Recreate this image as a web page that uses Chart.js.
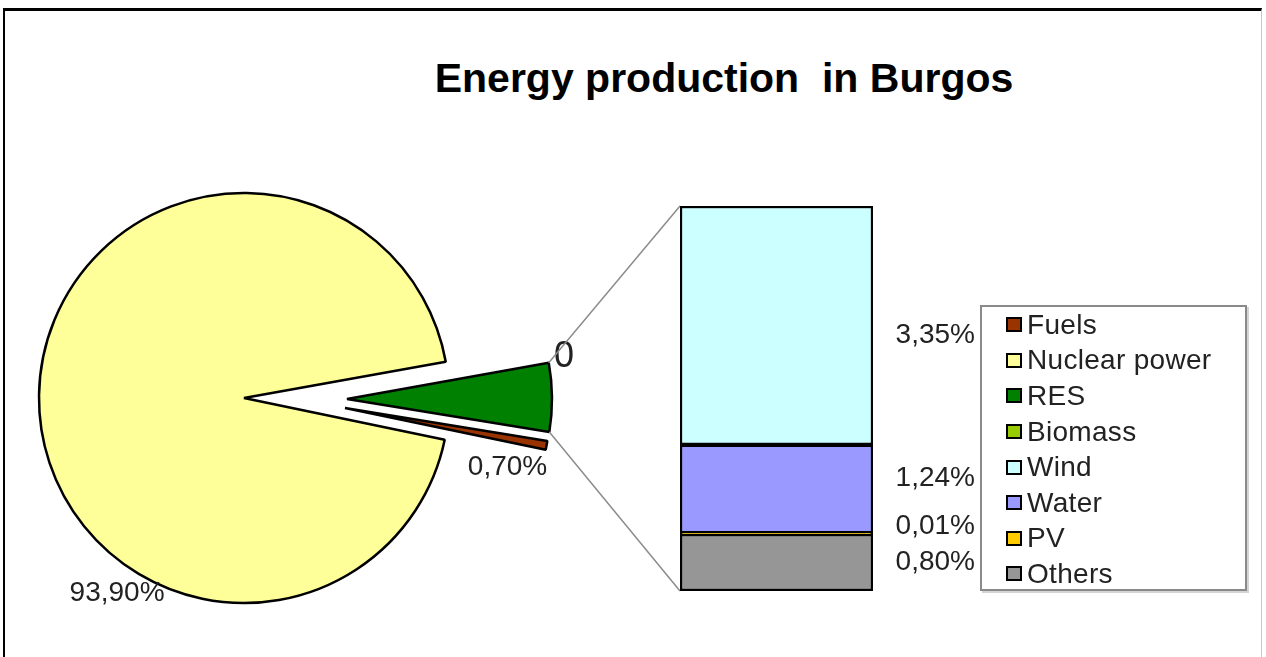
<!DOCTYPE html>
<html>
<head>
<meta charset="utf-8">
<title>Energy production in Burgos</title>
<script src="https://cdn.jsdelivr.net/npm/chart.js@4.4.1/dist/chart.umd.min.js"></script>
<style>
    body { margin: 0; background: #fff; font-family: "Liberation Sans", Arial, sans-serif; }
    #wrap { position: relative; width: 1266px; height: 657px; overflow: hidden; }
    #frame {
        position: absolute; left: 3px; top: 8px; width: 1256px; height: 700px;
        border-top: 3px solid #000; border-left: 2px solid #000; border-right: 1px solid #c8c8c8;
    }
    canvas { position: absolute; left: 0; top: 0; }
    #title {
        position: absolute; left: 224px; top: 58px; width: 1000px; text-align: center;
        font-weight: bold; font-size: 41px; line-height: 41px; color: #000; white-space: pre;
    }
    #legend {
        position: absolute; left: 980px; top: 305px; width: 263px; height: 282px;
        border: 2px solid #8a8a8a; box-shadow: 2px 2px 0 #d4d4d4; background: #fff;
    }
    .item { display: flex; align-items: center; height: 35.6px; color: #222; font-size: 28px; letter-spacing: 0.3px; }
    .swatch { width: 12px; height: 11px; border: 2px solid #000; margin-left: 24px; margin-right: 5px; }
</style>
</head>
<body>
<div id="wrap">
    <div id="frame"></div>
    <div id="title">Energy production  in Burgos</div>
    <canvas id="pieChart" width="1266" height="657"></canvas>
    <canvas id="barChart" width="1266" height="657"></canvas>
    <div id="legend"></div>
</div>
<script>
// Main sources (pie) and the RES breakdown (bar)
const mainLabels = ['Fuels', 'Nuclear power', 'RES'];
const mainValues = [0.70, 93.90, 0];
const mainColors = ['#993300', '#FFFF99', '#008000'];

const resLabels = ['Biomass', 'Wind', 'Water', 'PV', 'Others'];
const resValues = [0, 3.35, 1.24, 0.01, 0.80];
const resColors = ['#99CC00', '#CCFFFF', '#9999FF', '#FFCC00', '#969696'];

const resTotal = resValues.reduce((a, b) => a + b, 0);

// Pie order (clockwise from the gap): grouped RES, Fuels, Nuclear, RES header
const pieLabels = ['RES group', mainLabels[0], mainLabels[1], mainLabels[2]];
const pieValues = [resTotal, mainValues[0], mainValues[1], mainValues[2]];
const pieColors = [mainColors[2], mainColors[0], mainColors[1], mainColors[2]];

// Exploded slices are moved by these vectors (px)
const sliceShift = [[103, 1], [101, 10], [0, 0], [103, 1]];
// Where each pie label sits, relative to its slice centre
const pieLabelPos = [null, { deg: 20, dist: 173 }, { deg: 123, dist: 233 }, { deg: -11, dist: 221, size: 36 }];

// Bar labels: nudges off the segment centre
const barLabelNudge = { Wind: 10, Water: -11, PV: -7, Others: 0 };

function fmtPct(v) {
    if (v === 0) return '0';
    return v.toFixed(2).replace('.', ',') + '%';
}

// Move exploded slices after layout
const explodePlugin = {
    id: 'explode',
    afterDatasetsUpdate(chart) {
        chart.getDatasetMeta(0).data.forEach((arc, i) => {
            arc.x += sliceShift[i][0];
            arc.y += sliceShift[i][1];
        });
    }
};

const pieLabelPlugin = {
    id: 'pieLabels',
    afterDatasetsDraw(chart) {
        const ctx = chart.ctx;
        const meta = chart.getDatasetMeta(0);
        ctx.save();
        ctx.fillStyle = '#222';
        ctx.textAlign = 'center';
        ctx.textBaseline = 'middle';
        meta.data.forEach((arc, i) => {
            const pos = pieLabelPos[i];
            if (!pos) return;
            const a = pos.deg * Math.PI / 180;
            ctx.font = (pos.size || 28) + 'px "Liberation Sans", Arial, sans-serif';
            ctx.fillText(fmtPct(pieValues[i]), arc.x + Math.cos(a) * pos.dist, arc.y + Math.sin(a) * pos.dist);
        });
        ctx.restore();
    }
};

const pieChart = new Chart(document.getElementById('pieChart'), {
    type: 'pie',
    data: {
        labels: pieLabels,
        datasets: [{
            data: pieValues,
            backgroundColor: pieColors,
            borderColor: '#000',
            borderWidth: 2.5,
            radius: 205
        }]
    },
    options: {
        responsive: false,
        animation: false,
        rotation: 79.8,
        layout: { padding: { left: 0, right: 778, top: 139, bottom: 0 } },
        plugins: { legend: { display: false }, tooltip: { enabled: false } },
        events: []
    },
    plugins: [explodePlugin, pieLabelPlugin]
});

// Lines from the grouped slice to the bar
const connectorPlugin = {
    id: 'connector',
    beforeDatasetsDraw(chart) {
        const arc = pieChart.getDatasetMeta(0).data[0];
        const y = chart.scales.y;
        const bar = chart.getDatasetMeta(0).data[0];
        const left = bar.x - bar.width / 2;
        const ctx = chart.ctx;
        ctx.save();
        ctx.strokeStyle = '#8c8c8c';
        ctx.lineWidth = 1.5;
        ctx.beginPath();
        ctx.moveTo(arc.x + Math.cos(arc.startAngle) * arc.outerRadius, arc.y + Math.sin(arc.startAngle) * arc.outerRadius);
        ctx.lineTo(left, y.getPixelForValue(resTotal));
        ctx.moveTo(arc.x + Math.cos(arc.endAngle) * arc.outerRadius, arc.y + Math.sin(arc.endAngle) * arc.outerRadius);
        ctx.lineTo(left, y.getPixelForValue(0));
        ctx.stroke();
        ctx.restore();
    }
};

const barLabelPlugin = {
    id: 'barLabels',
    afterDatasetsDraw(chart) {
        const ctx = chart.ctx;
        ctx.save();
        ctx.fillStyle = '#222';
        ctx.font = '28px "Liberation Sans", Arial, sans-serif';
        ctx.textAlign = 'right';
        ctx.textBaseline = 'middle';
        chart.data.datasets.forEach((ds, i) => {
            const v = ds.data[0];
            if (!v) return;
            const el = chart.getDatasetMeta(i).data[0];
            const cy = (el.y + el.base) / 2 + (barLabelNudge[ds.label] || 0);
            ctx.fillText(fmtPct(v), el.x + el.width / 2 + 102, cy);
        });
        ctx.restore();
    }
};

// Stack bottom-up: Others, PV, Water, Wind, Biomass
const stackOrder = [4, 3, 2, 1, 0];

new Chart(document.getElementById('barChart'), {
    type: 'bar',
    data: {
        labels: ['RES'],
        datasets: stackOrder.map(i => ({
            label: resLabels[i],
            data: [resValues[i]],
            backgroundColor: resColors[i],
            borderColor: '#000',
            borderWidth: 2.5,
            borderSkipped: false,
            barPercentage: 1,
            categoryPercentage: 1
        }))
    },
    options: {
        responsive: false,
        animation: false,
        layout: { padding: { left: 680, right: 393, top: 206, bottom: 66 } },
        scales: {
            x: { stacked: true, display: false },
            y: { stacked: true, display: false, min: 0, max: resTotal }
        },
        plugins: { legend: { display: false }, tooltip: { enabled: false } },
        events: []
    },
    plugins: [connectorPlugin, barLabelPlugin]
});

// Legend covering both charts
const legend = document.getElementById('legend');
mainLabels.concat(resLabels).forEach((name, i) => {
    const color = mainColors.concat(resColors)[i];
    const item = document.createElement('div');
    item.className = 'item';
    item.innerHTML = '<span class="swatch" style="background:' + color + '"></span>' + name;
    legend.appendChild(item);
});
</script>
</body>
</html>
